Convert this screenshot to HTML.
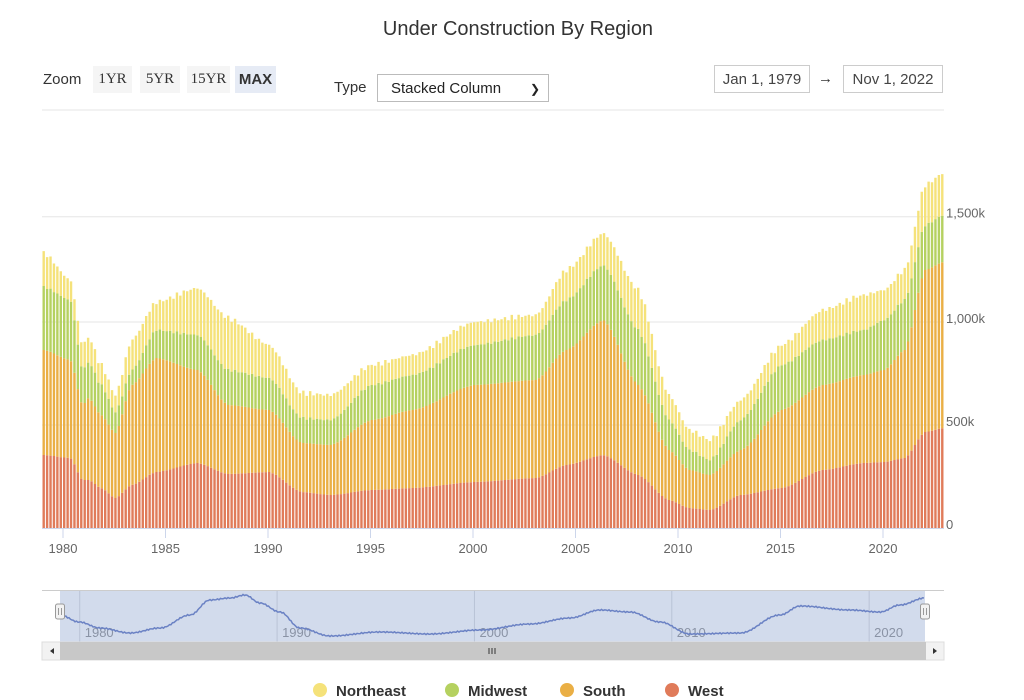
<!DOCTYPE html>
<html><head><meta charset="utf-8"><style>
body{margin:0;background:#fff;font-family:"Liberation Sans",sans-serif;}
#w{position:relative;width:1024px;height:700px;overflow:hidden}
.t{position:absolute;color:#333}
.btn{position:absolute;top:66px;height:27px;background:#f5f5f5;font-family:"Liberation Serif",serif;font-size:15px;color:#333;text-align:center;line-height:27px}
.box{position:absolute;top:65px;height:28px;border:1px solid #ccc;font-size:15px;color:#444;text-align:center;line-height:28px;box-sizing:border-box}
</style></head><body><div id="w">
<div class="t" style="left:0;width:1036px;top:18px;text-align:center;font-size:20px;color:#333">Under Construction By Region</div>
<div class="t" style="left:43px;top:71px;font-size:15px">Zoom</div>
<div class="btn" style="left:93px;width:39px">1YR</div>
<div class="btn" style="left:140px;width:40px">5YR</div>
<div class="btn" style="left:187px;width:43px">15YR</div>
<div class="btn" style="left:235px;width:41px;background:#e6ebf5;font-weight:bold;font-family:'Liberation Sans',sans-serif">MAX</div>
<div class="t" style="left:334px;top:79px;font-size:15px">Type</div>
<div class="box" style="left:377px;top:74px;width:172px;height:28px;text-align:left;padding-left:13px;color:#222;border-color:#bbb">Stacked Column <span style="position:absolute;right:8px;font-size:12px">&#10095;</span></div>
<div class="box" style="left:714px;width:96px">Jan 1, 1979</div>
<div class="t" style="left:818px;top:70px;font-size:15px">&#8594;</div>
<div class="box" style="left:843px;width:100px">Nov 1, 2022</div>
<svg id="s" width="1024" height="700" style="position:absolute;left:0;top:0"></svg>
</div>
<script>
var K=[[1979,455,350,287,253],[1980.3,458,360,300,280],[1980.9,480,405,370,345],[1981.2,480,398,362,337],[1981.8,488,415,385,365],[1982.5,498,433,412,395],[1983.3,485,385,370,340],[1984.5,472,358,330,302],[1986.5,463,370,335,288],[1988,474,405,370,318],[1990,472,410,378,345],[1991.6,492,443,418,393],[1993,495,445,420,395],[1995,490,420,385,365],[1997,488,410,375,355],[2000,482,385,345,322],[2003,478,380,335,315],[2004.5,465,350,300,270],[2006.3,455,320,265,233],[2008,475,385,330,290],[2009.5,500,450,420,395],[2010.5,508,470,450,430],[2011.5,510,475,460,440],[2013,495,450,420,400],[2015,488,410,365,345],[2017,470,385,340,310],[2019,463,375,330,295],[2020,462,370,320,290],[2021,458,350,300,270],[2022,432,270,225,185],[2022.9,428,262,215,173]];
function at(y,i){for(var j=0;j<K.length-1;j++){if(y<=K[j+1][0]){var a=K[j],b=K[j+1],f=(y-a[0])/(b[0]-a[0]);f=(1-Math.cos(f*Math.PI))/2*0.6+f*0.4;return a[i]+(b[i]-a[i])*f;}}return K[K.length-1][i];}
var X=function(y){return 63+(y-1980)*20.5};
var h='';
[216.7,322,425].forEach(function(g){h+='<line x1="42" x2="944" y1="'+g+'" y2="'+g+'" stroke="#e6e6e6"/>'});
h+='<line x1="42" x2="944" y1="110" y2="110" stroke="#e6e6e6"/>';
var cols=['#e07b5a','#eaaf45','#b5d160','#f5e27a'];
var p=['','','',''];
for(var y=1979;y<2022.85;y+=1/6){var x=X(y),bw=2.4,base=528;
 var v=[at(y,1),at(y,2),at(y,3),at(y,4)];
 var nz=Math.sin(y*53.1)*1.5+Math.sin(y*17.3)*1.2;
 v[3]+=nz;v[2]+=nz*0.5;
 for(var i=0;i<4;i++){p[i]+='M'+x.toFixed(2)+' '+base.toFixed(1)+'V'+v[i].toFixed(1)+'h'+bw+'V'+base.toFixed(1)+'z';base=v[i];}
}
for(var i=0;i<4;i++)h+='<path d="'+p[i]+'" fill="'+cols[i]+'"/>';
h+='<line x1="42" x2="944" y1="528.5" y2="528.5" stroke="#ccd6eb"/>';
for(var yr=1980;yr<=2020;yr+=5){var x=X(yr);h+='<line x1="'+x+'" x2="'+x+'" y1="529" y2="538" stroke="#ccd6eb"/><text x="'+x+'" y="553" font-size="13" fill="#666" text-anchor="middle">'+yr+'</text>';}
[[216.7,'1,500k'],[322,'1,000k'],[425,'500k'],[528,'0']].forEach(function(a){h+='<text x="946" y="'+(a[0]+1)+'" font-size="13" fill="#666">'+a[1]+'</text>'});
var n0=60,n1=925,NX=function(y){return n0+(y-1979)/43.83*(n1-n0)};
h+='<line x1="42" x2="944" y1="590.5" y2="590.5" stroke="#ccc"/>';
h+='<rect x="'+n0+'" y="591" width="'+(n1-n0)+'" height="51" fill="#d2dbec"/>';
for(var yr=1980;yr<=2020;yr+=10){var x=NX(yr);h+='<line x1="'+x+'" x2="'+x+'" y1="591" y2="642" stroke="#b9c3d6"/><text x="'+(x+5)+'" y="637" font-size="13" fill="#8a93a5">'+yr+'</text>';}
var NP=[[60,615],[79,622],[100,628],[130,633],[160,628],[190,615],[210,600],[230,598],[245,595],[260,603],[280,612],[300,628],[330,636],[380,632],[430,634],[480,630],[530,624],[570,618],[600,610],[630,612],[660,622],[690,634],[740,633],[780,615],[800,606],[850,610],[880,612],[900,605],[925,598]];
var d='';for(var x=60;x<=925;x+=1.5){var yy=NP[NP.length-1][1];for(var j=0;j<NP.length-1;j++){if(x<=NP[j+1][0]){var f=(x-NP[j][0])/(NP[j+1][0]-NP[j][0]);f=(1-Math.cos(f*Math.PI))/2;yy=NP[j][1]+(NP[j+1][1]-NP[j][1])*f;break;}}yy+=Math.sin(x*1.7)*0.6;d+=(d?'L':'M')+x.toFixed(1)+' '+yy.toFixed(1);}
h+='<path d="'+d+'" fill="none" stroke="#6b82c4" stroke-width="1.5"/>';
[n0,n1].forEach(function(x){h+='<rect x="'+(x-4.5)+'" y="604" width="9" height="15" rx="2" fill="#f2f2f2" stroke="#999"/><line x1="'+(x-1.5)+'" x2="'+(x-1.5)+'" y1="608" y2="615" stroke="#999"/><line x1="'+(x+1.5)+'" x2="'+(x+1.5)+'" y1="608" y2="615" stroke="#999"/>'});
h+='<rect x="42" y="642" width="902" height="18" fill="#f2f2f2" stroke="#ddd"/><rect x="60" y="642" width="866" height="18" fill="#c8c8c8"/>';
h+='<path d="M50 651l4-3v6z" fill="#333"/><path d="M937 651l-4-3v6z" fill="#333"/>';
h+='<path d="M489 648v6M492 648v6M495 648v6" stroke="#333"/>';
[[320,'Northeast','#f5e27a'],[452,'Midwest','#b5d160'],[567,'South','#eaaf45'],[672,'West','#e07b5a']].forEach(function(a){h+='<circle cx="'+a[0]+'" cy="690" r="7" fill="'+a[2]+'"/><text x="'+(a[0]+16)+'" y="696" font-size="15" font-weight="bold" fill="#333">'+a[1]+'</text>'});
document.getElementById('s').innerHTML=h;
</script></body></html>
